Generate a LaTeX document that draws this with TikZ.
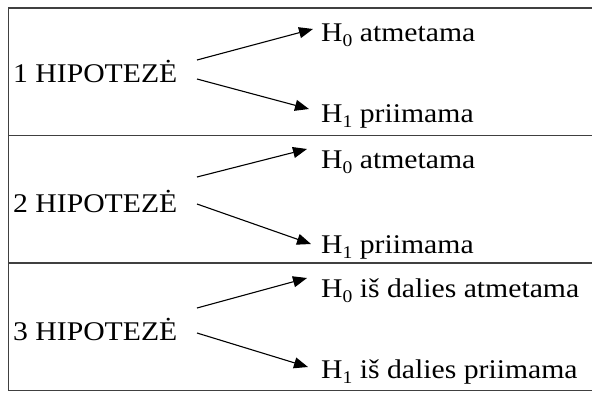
\documentclass[tikz,border=0pt]{standalone}
\usepackage{fontspec}
\setmainfont{Liberation Serif}[FakeStretch=1.1]
\usetikzlibrary{arrows.meta}
\newcommand\idx[1]{\raisebox{-0.2em}{\scalebox{0.66}{#1}}}
\definecolor{rule}{RGB}{64,64,64}
\tikzset{
  txt/.style={anchor=base west, inner sep=0pt, font=\fontsize{27}{30}\selectfont},
  arr/.style={line width=1.1pt, -{Triangle[length=14pt,width=11pt]}},
  tabline/.style={rule, line width=1.4pt}
}
\begin{document}
\begin{tikzpicture}[x=1pt,y=-1pt]
\useasboundingbox (0,0) rectangle (592,392);
% table frame and row dividers
\draw[tabline] (592,8) -- (8.5,8) -- (8.5,390.5) -- (592,390.5);
\draw[tabline] (8.5,135.5) -- (592,135.5);
\draw[tabline] (8.5,263) -- (592,263);

% row labels
\node[txt] (l1) at (13,82)  {1 HIPOTEZĖ};
\node[txt] (l2) at (13,212) {2 HIPOTEZĖ};
\node[txt] (l3) at (13,340) {3 HIPOTEZĖ};

% outcomes
\node[txt] (a1) at (321,41)  {H\idx{0} atmetama};
\node[txt] (b1) at (321,122) {H\idx{1} priimama};
\node[txt] (a2) at (321,168) {H\idx{0} atmetama};
\node[txt] (b2) at (321,253) {H\idx{1} priimama};
\node[txt] (a3) at (321,297) {H\idx{0} iš dalies atmetama};
\node[txt] (b3) at (321,378) {H\idx{1} iš dalies priimama};

% arrow end points
\coordinate (s1u) at (197,60);  \coordinate (t1u) at (313,29);
\coordinate (s1d) at (197,79);  \coordinate (t1d) at (309,109);
\coordinate (s2u) at (197,177); \coordinate (t2u) at (307,149);
\coordinate (s2d) at (197,204); \coordinate (t2d) at (311,244);
\coordinate (s3u) at (197,308); \coordinate (t3u) at (307,278);
\coordinate (s3d) at (197,333); \coordinate (t3d) at (308,367);

\draw[arr] (s1u) -- (t1u);
\draw[arr] (s1d) -- (t1d);
\draw[arr] (s2u) -- (t2u);
\draw[arr] (s2d) -- (t2d);
\draw[arr] (s3u) -- (t3u);
\draw[arr] (s3d) -- (t3d);
\end{tikzpicture}
\end{document}
